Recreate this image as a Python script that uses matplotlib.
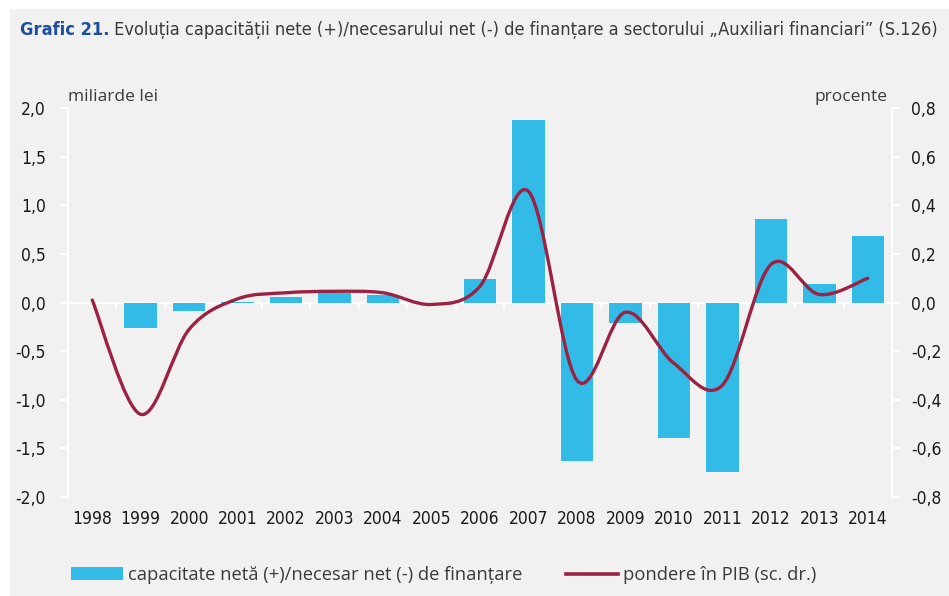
import numpy as np
import matplotlib
matplotlib.use("Agg")
import matplotlib.pyplot as plt
from matplotlib.path import Path
from matplotlib.patches import PathPatch, Rectangle
from matplotlib.lines import Line2D
from matplotlib import font_manager

years = ['1998', '1999', '2000', '2001', '2002', '2003', '2004', '2005', '2006',
         '2007', '2008', '2009', '2010', '2011', '2012', '2013', '2014']
# capacitate neta (+)/necesar net (-) de finantare, miliarde lei
capacitate = [0.0, -0.26, -0.09, 0.01, 0.06, 0.10, 0.08, 0.0, 0.24,
              1.88, -1.63, -0.21, -1.39, -1.74, 0.86, 0.195, 0.68]
# pondere in PIB, procente (sc. dr.)
pondere = [0.01, -0.46, -0.11, 0.015, 0.04, 0.046, 0.04, -0.008, 0.067,
           0.457, -0.32, -0.04, -0.25, -0.34, 0.156, 0.033, 0.10]

left_ticks = [-2.0, -1.5, -1.0, -0.5, 0.0, 0.5, 1.0, 1.5, 2.0]
right_ticks = [-0.8, -0.6, -0.4, -0.2, 0.0, 0.2, 0.4, 0.6, 0.8]

bar_col = '#31BBE6'
line_col = '#9B2242'
bg = '#F1F1F1'
txt = '#3a3a3a'

has_cond = any(f.name == 'DejaVu Sans' and f.stretch == 'condensed'
               for f in font_manager.fontManager.ttflist)
if has_cond:
    num_font = dict(family=['DejaVu Sans'], stretch='condensed', size=12.5)
    title_font = dict(family=['DejaVu Sans'], stretch='condensed', size=13.1)
else:
    num_font = dict(family=['Liberation Sans', 'DejaVu Sans'], size=11.5)
    title_font = dict(family=['Liberation Sans', 'DejaVu Sans'], size=11.6)
plt.rcParams['font.family'] = ['Open Sans', 'DejaVu Sans']


def fmt(v):
    return ('%.1f' % v).replace('.', ',')


fig = plt.figure(figsize=(9.49, 5.96), dpi=100)
fig.patch.set_facecolor('white')
fig.patches.append(Rectangle((10 / 949, 0), 1, 1 - 9 / 596, transform=fig.transFigure,
                             facecolor=bg, edgecolor='none', zorder=-10))

ax = fig.add_axes([68 / 949, 1 - 497 / 596, (892 - 68) / 949, (497 - 108) / 596])
ax.set_facecolor(bg)
x = np.arange(len(years))
ax.bar(x, capacitate, width=0.67, color=bar_col, linewidth=0, zorder=2)
ax.set_xlim(-0.5, len(years) - 0.5)
ax.set_ylim(-2.0, 2.0)
ax.set_yticks(left_ticks)
ax.set_yticklabels([fmt(v) for v in left_ticks], **num_font)
ax.set_xticks([])
for s in ['top', 'right', 'bottom']:
    ax.spines[s].set_visible(False)
ax.spines['left'].set_color('white')
ax.spines['left'].set_linewidth(1.5)
ax.tick_params(axis='y', colors='white', width=1.5, length=6, labelcolor='#1a1a1a', pad=10)

# zero line with category ticks
ax.axhline(0, color='white', lw=1.5, zorder=1)
for b in np.arange(0.5, len(years) - 1, 1.0):
    ax.plot([b, b], [0, -0.06], color='white', lw=1.5, zorder=1)

# year labels
for i, yr in enumerate(years):
    ax.text(i, -2.13, yr, ha='center', va='top', color='#1a1a1a', **num_font)

ax2 = ax.twinx()
ax2.set_ylim(-0.8, 0.8)
ax2.set_yticks(right_ticks)
ax2.set_yticklabels([fmt(v) for v in right_ticks], **num_font)
for s in ['top', 'left', 'bottom']:
    ax2.spines[s].set_visible(False)
ax2.spines['right'].set_color('white')
ax2.spines['right'].set_linewidth(1.5)
ax2.tick_params(axis='y', colors='white', width=1.5, length=6, labelcolor='#1a1a1a', pad=8)

# smoothed line (Excel-like bezier)
pts = np.column_stack([x, pondere]).astype(float)
verts = [pts[0]]
codes = [Path.MOVETO]
n = len(pts)
for i in range(n - 1):
    p0 = pts[i - 1] if i > 0 else pts[i]
    p1, p2 = pts[i], pts[i + 1]
    p3 = pts[i + 2] if i + 2 < n else pts[i + 1]
    c1 = p1 + (p2 - p0) / 6.0
    c2 = p2 - (p3 - p1) / 6.0
    verts += [c1, c2, p2]
    codes += [Path.CURVE4] * 3
ax2.add_patch(PathPatch(Path(verts, codes), facecolor='none', edgecolor=line_col,
                        lw=2.4, capstyle='round', joinstyle='round', zorder=3))

fig.text(68 / 949, 1 - 97 / 596, 'miliarde lei', fontsize=12.5, color=txt,
         va='center', ha='left')
fig.text(888 / 949, 1 - 97 / 596, 'procente', fontsize=12.5, color=txt,
         va='center', ha='right')

# title
t1 = fig.text(20 / 949, 1 - 30 / 596, 'Grafic 21.', fontweight='bold',
              color='#1F4E9C', va='center', ha='left', **title_font)
plt.annotate(' Evoluția capacității nete (+)/necesarului net (-) de finanțare a sectorului '
             '„Auxiliari financiari” (S.126)', xy=(1, 0.5), xycoords=t1,
             va='center', ha='left', color=txt, annotation_clip=False, **title_font)

# legend
handles = [Rectangle((0, 0), 1, 1, facecolor=bar_col, edgecolor='none'),
           Line2D([0], [0], color=line_col, lw=2.6)]
labels = ['capacitate netă (+)/necesar net (-) de finanțare', 'pondere în PIB (sc. dr.)']
fig.legend(handles, labels, loc='center left', bbox_to_anchor=(71 / 949, 1 - 575 / 596),
           ncol=2, frameon=False, handlelength=2.85, handletextpad=0.25,
           columnspacing=2.4, borderpad=0, borderaxespad=0, labelcolor=txt,
           prop={'family': ['Open Sans', 'DejaVu Sans'], 'size': 13.2})

fig.savefig('out.png', dpi=100, facecolor=fig.get_facecolor())
